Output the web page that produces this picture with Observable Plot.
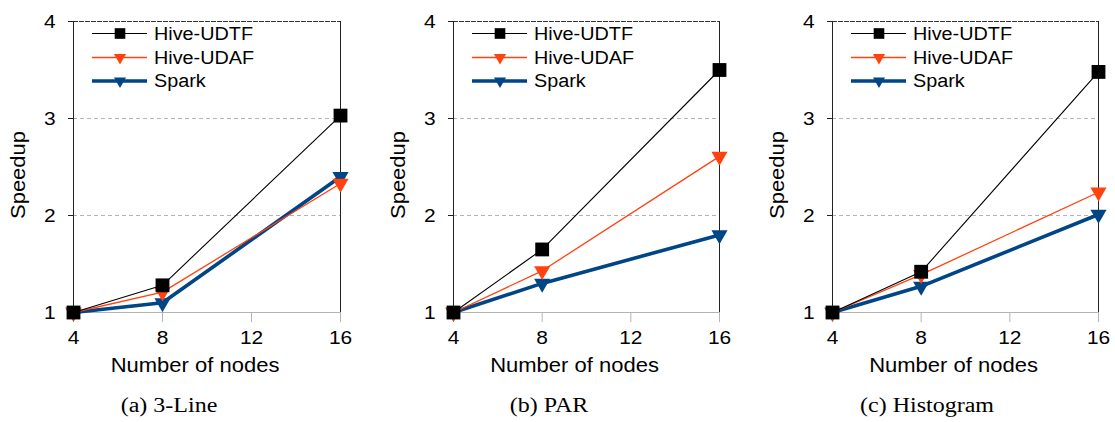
<!DOCTYPE html>
<html>
<head>
<meta charset="utf-8">
<script src="https://cdn.jsdelivr.net/npm/d3@7"></script>
<script src="https://cdn.jsdelivr.net/npm/@observablehq/plot@0.6"></script>
<style>
  html, body { margin: 0; padding: 0; background: #fff; }
  #root { position: relative; width: 1115px; height: 422px; overflow: hidden; }
  .panel { position: absolute; top: 0; }
  .caption { position: absolute; top: 395px; font-family: "Liberation Serif", "Times New Roman", serif; font-size: 20px; line-height: 1; color: #000; white-space: pre; transform: translateX(-50%) scaleX(1.2); }
</style>
</head>
<body>
<div id="root"></div>
<script>
// ---- data ----
const nodes = [4, 8, 16];
const seriesNames = ["Hive-UDTF", "Hive-UDAF", "Spark"];
const panelCaptions = ["(a) 3-Line", "(b) PAR", "(c) Histogram"];

const udtf3Line = [1, 1.28, 3.03];
const udaf3Line = [1, 1.21, 2.33];
const spark3Line = [1, 1.10, 2.40];

const udtfPar = [1, 1.65, 3.50];
const udafPar = [1, 1.43, 2.61];
const sparkPar = [1, 1.30, 1.80];

const udtfHist = [1, 1.42, 3.48];
const udafHist = [1, 1.39, 2.24];
const sparkHist = [1, 1.27, 2.01];

const xTicks = [4, 8, 12, 16];
const yTicks = [1, 2, 3, 4];
const xDomain = [4, 16];
const yDomain = [1, 4];
const yGrid = [2, 3];
const xLabel = "Number of nodes";
const yLabel = "Speedup";

// ---- styles ----
const seriesStyle = {
  "Hive-UDTF": {stroke: "#000000", strokeWidth: 1.1, symbol: "square", r: 7.8, rotate: 0, legendR: 6.0},
  "Hive-UDAF": {stroke: "#ff420e", strokeWidth: 1.3, symbol: "triangle", r: 6.0, rotate: 180, legendR: 4.5},
  "Spark":     {stroke: "#004586", strokeWidth: 3.6, symbol: "triangle", r: 6.0, rotate: 180, legendR: 4.5}
};
const STRETCH = 1.1;

const panels = [
  {values: {"Hive-UDTF": udtf3Line, "Hive-UDAF": udaf3Line, "Spark": spark3Line}, left: 0, width: 372, ml: 73, mr: 32},
  {values: {"Hive-UDTF": udtfPar, "Hive-UDAF": udafPar, "Spark": sparkPar}, left: 372, width: 372, ml: 81, mr: 25},
  {values: {"Hive-UDTF": udtfHist, "Hive-UDAF": udafHist, "Spark": sparkHist}, left: 744, width: 371, ml: 88, mr: 17}
];

const H = 385, MT = 21, MB = 73;
const root = document.getElementById("root");

panels.forEach((p, pi) => {
  const drawOrder = seriesNames.slice().reverse();
  const seriesMarks = [];
  drawOrder.forEach(name => {
    const st = seriesStyle[name];
    const rows = nodes.map((n, i) => ({n, v: p.values[name][i]}));
    seriesMarks.push(Plot.line(rows, {x: "n", y: "v", stroke: st.stroke, strokeWidth: st.strokeWidth}));
    seriesMarks.push(Plot.dot(rows, {x: "n", y: "v", symbol: st.symbol, r: st.r, fill: st.stroke, stroke: "none", rotate: st.rotate}));
  });

  const chart = Plot.plot({
    width: p.width,
    height: H,
    marginLeft: p.ml,
    marginRight: p.mr,
    marginTop: MT,
    marginBottom: MB,
    x: {domain: xDomain},
    y: {domain: yDomain},
    style: {fontFamily: "'Liberation Sans', Arial, sans-serif", fontSize: "19px", color: "#000", background: "transparent", overflow: "visible"},
    marks: [
      Plot.ruleY(yGrid, {stroke: "#b3b3b3", strokeDasharray: "4,3", strokeWidth: 1}),
      Plot.ruleY([yDomain[1]], {stroke: "#333", strokeDasharray: "5,1", strokeWidth: 1}),
      Plot.ruleY([yDomain[0]], {stroke: "#b3b3b3", strokeWidth: 1}),
      Plot.ruleX(xDomain, {stroke: "#222", strokeWidth: 1}),
      Plot.axisX({ticks: xTicks, tickSize: 10, tickPadding: 8, stroke: "#b3b3b3", fill: "#000", label: null, tickFormat: d => String(d)}),
      Plot.axisY({ticks: yTicks, tickSize: 5, tickPadding: 13, stroke: "#222", fill: "#000", label: null, tickFormat: d => String(d)}),
      Plot.text([xLabel], {frameAnchor: "bottom", textAnchor: "middle", lineAnchor: "middle", dy: 53, dx: -12, fill: "#000", fontSize: 20}),
      Plot.text([yLabel], {frameAnchor: "left", textAnchor: "middle", lineAnchor: "middle", rotate: -90, dx: -55, dy: 8, fill: "#000", fontSize: 20}),
      ...seriesMarks
    ]
  });

  // legend
  const svg = d3.select(chart);
  const lg = svg.append("g").attr("text-anchor", "start");
  const rowsY = [33.5, 57.5, 81];
  seriesNames.forEach((name, i) => {
    const st = seriesStyle[name];
    const x0 = p.ml + 19, x1 = p.ml + 74, xm = p.ml + 47, y = rowsY[i];
    lg.append("line").attr("x1", x0).attr("x2", x1).attr("y1", y).attr("y2", y)
      .attr("stroke", st.stroke).attr("stroke-width", st.strokeWidth);
    const sym = st.symbol === "square" ? d3.symbolSquare : d3.symbolTriangle;
    lg.append("path").attr("d", d3.symbol(sym, Math.PI * st.legendR * st.legendR)())
      .attr("transform", `translate(${xm},${y}) rotate(${st.rotate})`)
      .attr("fill", st.stroke);
    lg.append("text").attr("x", p.ml + 81).attr("y", y).attr("dy", "0.35em")
      .attr("text-anchor", "start")
      .attr("fill", "#000").attr("font-size", 18).text(name);
  });

  const div = document.createElement("div");
  div.className = "panel";
  div.style.left = p.left + "px";
  div.appendChild(chart);
  root.appendChild(div);

  // widen glyphs slightly to match the reference typeface proportions
  chart.querySelectorAll("text").forEach(t => {
    const len = t.getComputedTextLength();
    if (len > 0) {
      t.setAttribute("textLength", (len * STRETCH).toFixed(2));
      t.setAttribute("lengthAdjust", "spacingAndGlyphs");
    }
  });
});

const captionCenters = [169, 549, 927];
panelCaptions.forEach((c, i) => {
  const d = document.createElement("div");
  d.className = "caption";
  d.style.left = captionCenters[i] + "px";
  d.textContent = c;
  root.appendChild(d);
});
</script>
</body>
</html>
